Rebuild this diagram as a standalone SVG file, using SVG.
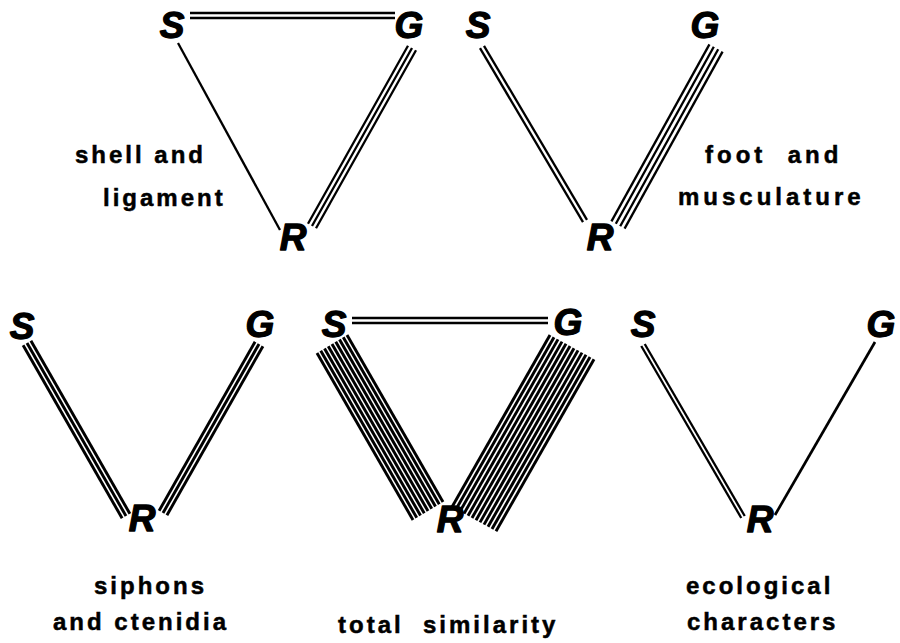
<svg xmlns="http://www.w3.org/2000/svg" width="900" height="643" viewBox="0 0 900 643">
<style>
.v{font-family:"Liberation Sans",Arial,sans-serif;font-weight:bold;font-style:italic;font-size:37px;fill:#000;stroke:#000;stroke-width:1.3;stroke-linejoin:round;text-anchor:middle}
.lb{font-family:"Liberation Sans",Arial,sans-serif;font-weight:bold;font-size:24px;fill:#000;stroke:#000;stroke-width:0.5;letter-spacing:3px}
.c line{stroke:#000;stroke-width:2.3;fill:none}
.k line{stroke-width:2.9}
</style>
<rect width="900" height="643" fill="#fff"/>
<g id="connectors" class="c">
  <g id="t1">
    <line x1="190" y1="13" x2="395" y2="13" style="stroke-width:2.5"/>
    <line x1="190" y1="18" x2="395" y2="18" style="stroke-width:2.5"/>
    <line x1="178" y1="43" x2="280" y2="230"/>
    <line x1="408" y1="45.7" x2="308" y2="223.7"/>
    <line x1="412" y1="48" x2="312" y2="226"/>
    <line x1="416" y1="50.3" x2="316" y2="228.3"/>
  </g>
  <g id="t2">
    <line x1="480" y1="48.2" x2="583" y2="222.2"/>
    <line x1="484" y1="45.8" x2="587" y2="219.8"/>
    <line x1="709.43" y1="44.36" x2="611.43" y2="221.36"/>
    <line x1="713.81" y1="46.79" x2="615.81" y2="223.79"/>
    <line x1="718.19" y1="49.21" x2="620.19" y2="226.21"/>
    <line x1="722.57" y1="51.64" x2="624.57" y2="228.64"/>
  </g>
  <g id="t3" class="k">
    <line x1="23.1" y1="345.24" x2="122.1" y2="518.24"/>
    <line x1="27" y1="343" x2="126" y2="516"/>
    <line x1="30.9" y1="340.76" x2="129.9" y2="513.76"/>
    <line x1="255.09" y1="341.78" x2="159.09" y2="510.78"/>
    <line x1="259" y1="344" x2="163" y2="513"/>
    <line x1="262.91" y1="346.22" x2="166.91" y2="515.22"/>
  </g>
  <g id="t4" class="k">
    <line x1="352" y1="318" x2="548" y2="318" style="stroke-width:2.3"/>
    <line x1="352" y1="323" x2="548" y2="323" style="stroke-width:2.3"/>
    <line x1="317" y1="353" x2="413" y2="520"/>
    <line x1="320.75" y1="350.75" x2="416.75" y2="517.75"/>
    <line x1="324.5" y1="348.5" x2="420.5" y2="515.5"/>
    <line x1="328.25" y1="346.25" x2="424.25" y2="513.25"/>
    <line x1="332" y1="344" x2="428" y2="511"/>
    <line x1="335.75" y1="341.75" x2="431.75" y2="508.75"/>
    <line x1="339.5" y1="339.5" x2="435.5" y2="506.5"/>
    <line x1="343.25" y1="337.25" x2="439.25" y2="504.25"/>
    <line x1="347" y1="335" x2="443" y2="502"/>
    <line x1="550" y1="335" x2="452" y2="507"/>
    <line x1="554" y1="337.2" x2="456" y2="509.2"/>
    <line x1="558" y1="339.4" x2="460" y2="511.4"/>
    <line x1="562" y1="341.6" x2="464" y2="513.6"/>
    <line x1="566" y1="343.8" x2="468" y2="515.8"/>
    <line x1="570" y1="346" x2="472" y2="518"/>
    <line x1="574" y1="348.2" x2="476" y2="520.2"/>
    <line x1="578" y1="350.4" x2="480" y2="522.4"/>
    <line x1="582" y1="352.6" x2="484" y2="524.6"/>
    <line x1="586" y1="354.8" x2="488" y2="526.8"/>
    <line x1="590" y1="357" x2="492" y2="529"/>
    <line x1="594" y1="359.2" x2="496" y2="531.2"/>
  </g>
  <g id="t5">
    <line x1="641.27" y1="346" x2="741.27" y2="518"/>
    <line x1="644.73" y1="344" x2="744.73" y2="516"/>
    <line x1="875" y1="342" x2="775" y2="515" style="stroke-width:2.7"/>
  </g>
</g>
<g id="n1-S"><text class="v" x="172" y="38">S</text></g>
<g id="n1-G"><text class="v" x="409" y="38">G</text></g>
<g id="n1-R"><text class="v" x="293" y="250">R</text></g>
<g id="n2-S"><text class="v" x="478" y="38">S</text></g>
<g id="n2-G"><text class="v" x="705" y="38">G</text></g>
<g id="n2-R"><text class="v" x="600" y="250">R</text></g>
<g id="n3-S"><text class="v" x="22" y="339">S</text></g>
<g id="n3-G"><text class="v" x="260" y="337">G</text></g>
<g id="n3-R"><text class="v" x="142" y="531">R</text></g>
<g id="n4-S"><text class="v" x="334" y="337">S</text></g>
<g id="n4-G"><text class="v" x="568" y="335">G</text></g>
<g id="n4-R"><text class="v" x="450" y="532">R</text></g>
<g id="n5-S"><text class="v" x="643" y="337">S</text></g>
<g id="n5-G"><text class="v" x="881" y="337">G</text></g>
<g id="n5-R"><text class="v" x="760" y="532">R</text></g>
<g id="labels">
  <text class="lb" x="75" y="163">shell and</text>
  <text class="lb" x="103" y="206">ligament</text>
  <text class="lb" x="705" y="163" style="letter-spacing:4px;white-space:pre">foot  and</text>
  <text class="lb" x="678" y="205" style="letter-spacing:4px">musculature</text>
  <text class="lb" x="94" y="594">siphons</text>
  <text class="lb" x="53" y="630">and ctenidia</text>
  <text class="lb" x="338" y="633" style="white-space:pre">total  similarity</text>
  <text class="lb" x="686" y="594">ecological</text>
  <text class="lb" x="687" y="630">characters</text>
</g>
</svg>
